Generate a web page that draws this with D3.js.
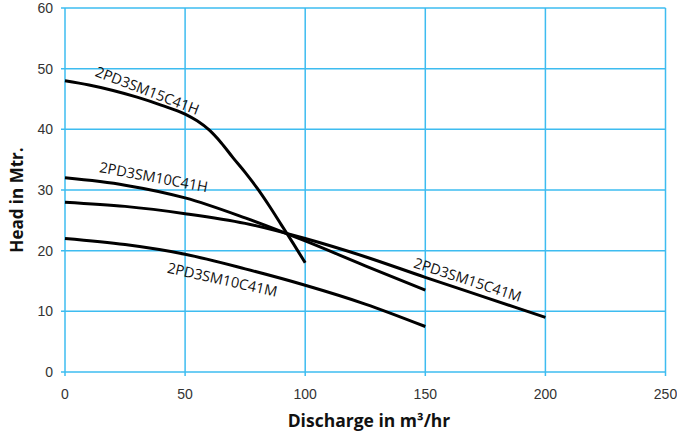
<!DOCTYPE html>
<html>
<head>
<meta charset="utf-8">
<script src="https://cdn.jsdelivr.net/npm/d3@7"></script>
<style>
  html, body { margin: 0; padding: 0; background: #fff; }
  svg { display: block; }
</style>
</head>
<body>
<div id="chart"></div>
<script>
// ---- Data ----
const xTicks = [0, 50, 100, 150, 200, 250];
const yTicks = [0, 10, 20, 30, 40, 50, 60];

const seriesNames = ["2PD3SM15C41H", "2PD3SM10C41H", "2PD3SM15C41M", "2PD3SM10C41M"];

const q15H = [0, 10, 20, 30, 40, 50, 55, 60, 65, 70, 75, 80, 85, 90, 95, 100];
const h15H = [48, 47.3, 46.4, 45.3, 44, 42.5, 41.4, 39.9, 37.8, 35.3, 32.9, 30.3, 27.4, 24.3, 21.2, 18];

const q10H = [0, 25, 50, 75, 100, 125, 150];
const h10H = [32, 30.8, 28.7, 25.4, 21.6, 17.5, 13.5];

const q15M = [0, 25, 50, 75, 100, 125, 150, 175, 200];
const h15M = [28, 27.3, 26.1, 24.5, 22.0, 19.0, 15.6, 12.3, 9];

const q10M = [0, 25, 50, 75, 100, 125, 150];
const h10M = [22, 21, 19.4, 17, 14.3, 11.2, 7.5];

// label anchor (data coords) and rotation, in series order
const labelQ = [33.5, 36.5, 167, 65];
const labelH = [45.6, 31.3, 14.4, 14.4];
const labelAngle = [21, 10.5, 18, 12.5];

const xTitle = "Discharge in m³/hr";
const yTitle = "Head in Mtr.";

// ---- Layout ----
const W = 677, H = 436;
const mLeft = 65, mRight = 665.5, mTop = 8, mBottom = 372;

const svg = d3.select("#chart").append("svg").attr("width", W).attr("height", H);

const x = d3.scaleLinear().domain([0, 250]).range([mLeft, mRight]);
const y = d3.scaleLinear().domain([0, 60]).range([mBottom, mTop]);

const gridColor = "#3dbcf0";

// grid
const g = svg.append("g");
g.selectAll("line.h").data(yTicks).join("line")
  .attr("class", "h")
  .attr("x1", mLeft - 4).attr("x2", mRight)
  .attr("y1", d => y(d)).attr("y2", d => y(d))
  .attr("stroke", gridColor).attr("stroke-width", 1.5);
g.selectAll("line.v").data(xTicks).join("line")
  .attr("class", "v")
  .attr("x1", d => x(d)).attr("x2", d => x(d))
  .attr("y1", mTop).attr("y2", mBottom + 4)
  .attr("stroke", gridColor).attr("stroke-width", 1.5);

// tick labels
svg.append("g").selectAll("text").data(yTicks).join("text")
  .attr("x", 53).attr("y", d => y(d)).attr("dy", "0.36em")
  .attr("text-anchor", "end")
  .attr("font-family", "'Liberation Sans', Arial, sans-serif")
  .attr("font-size", 14).attr("fill", "#333")
  .text(d => d);
svg.append("g").selectAll("text").data(xTicks).join("text")
  .attr("x", d => x(d)).attr("y", 399)
  .attr("text-anchor", "middle")
  .attr("font-family", "'Liberation Sans', Arial, sans-serif")
  .attr("font-size", 14).attr("fill", "#333")
  .text(d => d);

// curves
const series = [
  { q: q15H, h: h15H },
  { q: q10H, h: h10H },
  { q: q15M, h: h15M },
  { q: q10M, h: h10M }
];
const line = d3.line().x(d => x(d[0])).y(d => y(d[1])).curve(d3.curveMonotoneX);
svg.append("g").selectAll("path").data(series).join("path")
  .attr("d", s => line(s.q.map((v, i) => [v, s.h[i]])))
  .attr("fill", "none").attr("stroke", "#000").attr("stroke-width", 3);

// series labels
svg.append("g").selectAll("text").data(seriesNames).join("text")
  .attr("transform", (d, i) => `translate(${x(labelQ[i])},${y(labelH[i])}) rotate(${labelAngle[i]})`)
  .attr("text-anchor", "middle")
  .attr("font-family", "'Open Sans', sans-serif")
  .attr("font-size", 14.5).attr("fill", "#111")
  .text(d => d);

// axis titles
svg.append("text")
  .attr("x", 369).attr("y", 427)
  .attr("text-anchor", "middle")
  .attr("font-family", "'Open Sans', sans-serif")
  .attr("font-weight", "bold").attr("font-size", 17.5).attr("fill", "#111")
  .text(xTitle);
svg.append("text")
  .attr("transform", "translate(23,200) rotate(-90)")
  .attr("text-anchor", "middle")
  .attr("font-family", "'Open Sans', sans-serif")
  .attr("font-weight", "bold").attr("font-size", 17).attr("fill", "#111")
  .text(yTitle);
</script>
</body>
</html>
